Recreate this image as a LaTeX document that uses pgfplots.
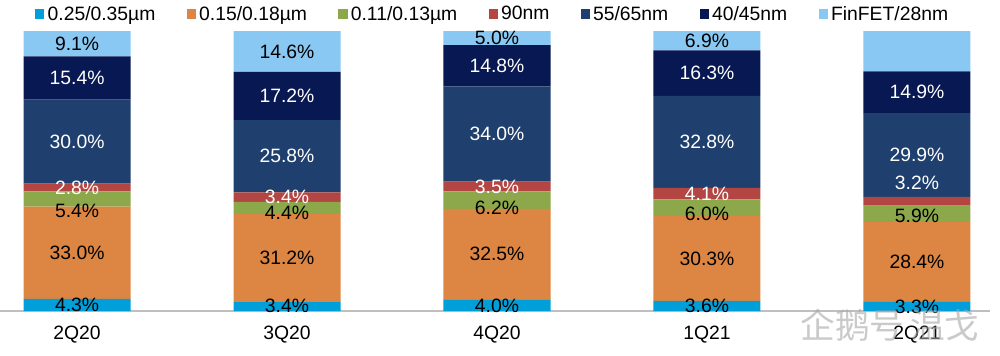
\documentclass[border=0pt]{standalone}
\usepackage{pgfplots}
\pgfplotsset{compat=1.18}
\usepackage{fontspec}
\setmainfont{Liberation Sans}
\newfontfamily\cjk{Noto Sans CJK SC}
\definecolor{c1}{HTML}{009FD9}
\definecolor{c2}{HTML}{DD8542}
\definecolor{c3}{HTML}{8CA84B}
\definecolor{c4}{HTML}{B34542}
\definecolor{c5}{HTML}{1F406E}
\definecolor{c6}{HTML}{071852}
\definecolor{c7}{HTML}{88C8F2}
\newcommand{\lf}{\fontsize{14.5}{17}\selectfont}
\begin{document}
\begin{tikzpicture}
\path[use as bounding box] (0,-33pt) rectangle (750pt,233.25pt);
\begin{axis}[
  at={(0,0)}, anchor=south west,
  scale only axis, width=742.5pt, height=210pt,
  ybar stacked, bar width=80.25pt,
  xmin=-0.367, xmax=4.348, ymin=0, ymax=100,
  axis y line=none, axis x line*=bottom,
  x axis line style={draw=black!25, line width=0.8pt},
  xtick={0,1,2,3,4}, xticklabels={2Q20,3Q20,4Q20,1Q21,2Q21},
  major tick length=0pt,
  xticklabel style={anchor=base, yshift=-21.5pt, font=\lf},
  /pgf/number format/assume math mode=true,
  visualization depends on=rawy \as \rawy,
  nodes near coords={\pgfmathprintnumber[fixed,fixed zerofill,precision=1]{\rawy}\%},
  every node near coord/.append style={anchor=center, font=\lf},
  legend columns=7,
  legend style={at={(0.498,1.0607)}, anchor=center, draw=none, fill=none, font=\lf,
    /tikz/every even column/.append style={column sep=21.5pt},
    /tikz/every odd column/.append style={column sep=0.5pt}, inner sep=0pt},
  legend image code/.code={\fill[#1] (0pt,-3.4pt) rectangle (6.8pt,3.4pt);},
]
\addplot[fill=c1, draw=none] coordinates {(0,4.3) (1,3.4) (2,4.0) (3,3.6) (4,3.3)};
\addlegendentry{0.25/0.35µm}
\addplot[fill=c2, draw=none] coordinates {(0,33.0) (1,31.2) (2,32.5) (3,30.3) (4,28.4)};
\addlegendentry{0.15/0.18µm}
\addplot[fill=c3, draw=none, visualization depends on=value \thisrow{dy} \as \dy,
  every node near coord/.append style={yshift=\dy pt}] table {
x y dy
0 5.4 -9
1 4.4 -4
2 6.2 -6
3 6.0 -4.5
4 5.9 -1.5
};
\addlegendentry{0.11/0.13µm}
\addplot[fill=c4, draw=none, visualization depends on=value \thisrow{dy} \as \dy,
  every node near coord/.append style={text=white, yshift=\dy pt}] table {
x y dy
0 2.8 0
1 3.4 0
2 3.5 0
3 4.1 0
4 3.2 14
};
\addlegendentry{90nm}
\addplot[fill=c5, draw=none, every node near coord/.append style={text=white}] coordinates {(0,30.0) (1,25.8) (2,34.0) (3,32.8) (4,29.9)};
\addlegendentry{55/65nm}
\addplot[fill=c6, draw=none, every node near coord/.append style={text=white}] coordinates {(0,15.4) (1,17.2) (2,14.8) (3,16.3) (4,14.9)};
\addlegendentry{40/45nm}
\addplot[fill=c7, draw=none] coordinates {(0,9.1) (1,14.6) (2,5.0) (3,6.9) (4,14.5)};
\addlegendentry{FinFET/28nm}
\end{axis}
\node[text=black!35, opacity=0.6, font=\cjk\fontsize{26}{30}\selectfont] at (667.5pt,-10.5pt) {企鹅号\,温戈};
\end{tikzpicture}
\end{document}
